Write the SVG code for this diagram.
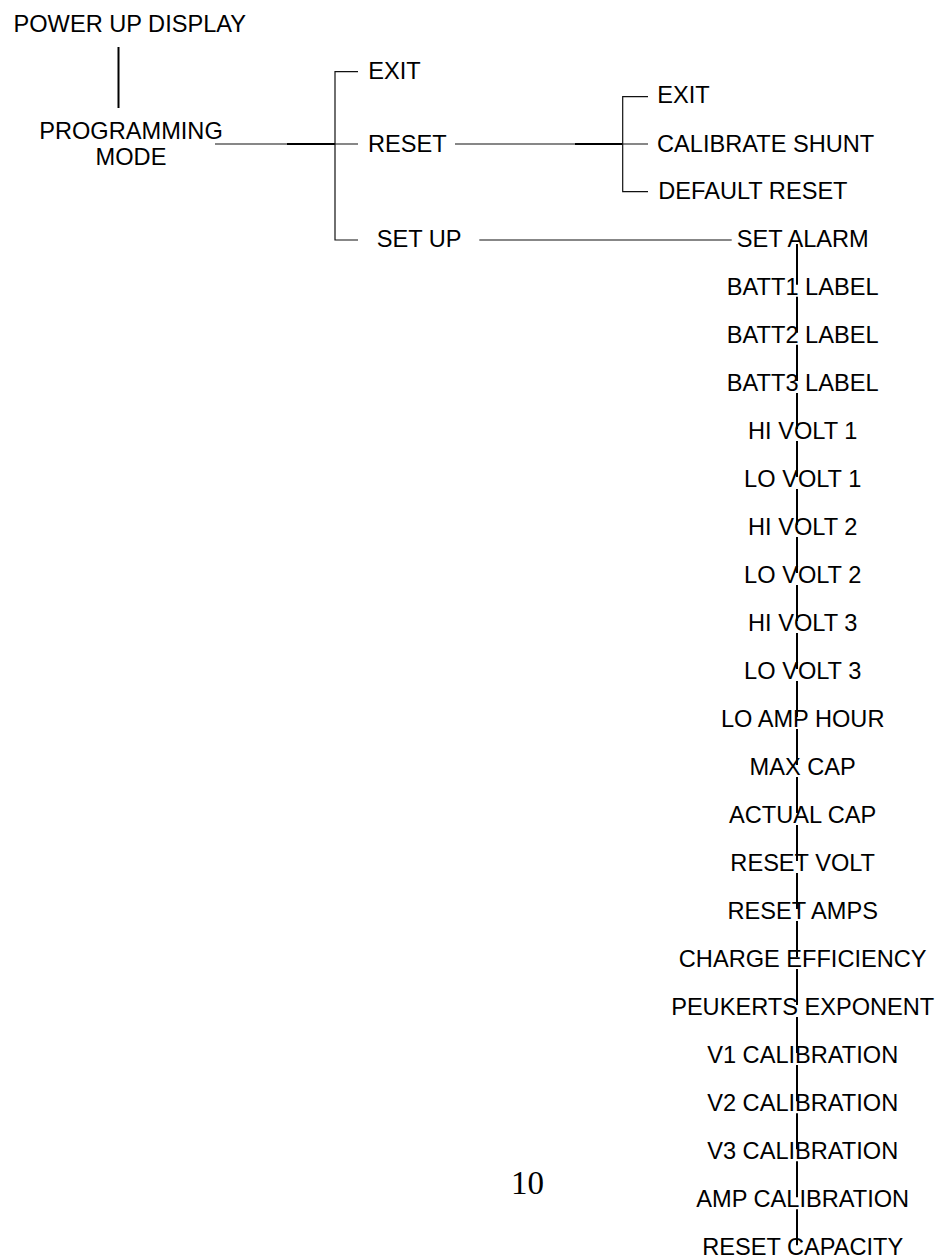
<svg xmlns="http://www.w3.org/2000/svg" width="939" height="1256" viewBox="0 0 939 1256">
<style>
text{font-family:"Liberation Sans",Arial,sans-serif;font-size:23.6px;fill:#000}
.m{text-anchor:middle}
.pg{font-family:"Liberation Serif","Times New Roman",serif;font-size:33px}
.thin{stroke:#111;stroke-width:1.2;fill:none}
.thick{stroke:#000;stroke-width:2;fill:none}
</style>
<rect width="939" height="1256" fill="#fff"/>
<g id="connectors">
<line class="thick" x1="118.5" y1="47" x2="118.5" y2="108"/>
<line class="thin" x1="215" y1="144" x2="287" y2="144"/>
<line class="thick" x1="287" y1="144" x2="335" y2="144"/>
<path class="thin" d="M358 71.7H335V240H358M335 144H358"/>
<line class="thin" x1="455" y1="144" x2="575" y2="144"/>
<line class="thick" x1="575" y1="144" x2="622.7" y2="144"/>
<path class="thin" d="M648 96.7H622.7V191.7H648M622.7 144H648"/>
<line class="thin" x1="479.3" y1="240" x2="731.7" y2="240"/>
<path class="thick" d="M797 244V284.8M797 296.8V332.8M797 344.8V380.9M797 392.9V428.9M797 440.9V476.9M797 488.9V524.9M797 536.9V572.9M797 584.9V621M797 633V669M797 681V717M797 729V765M797 777V813M797 825V861.1M797 873.1V909.1M797 921.1V957.1M797 969.1V1005.1M797 1017.1V1053.1M797 1065.1V1101.2M797 1113.2V1149.2M797 1161.2V1197.2M797 1209.2V1245.2"/>
</g>
<g id="power-up-display"><text class="m" x="129.8" y="31.5">POWER UP DISPLAY</text></g>
<g id="programming-mode"><text class="m" x="131" y="138.5">PROGRAMMING</text><text class="m" x="131" y="165.3">MODE</text></g>
<g id="exit-1"><text x="368.3" y="79.3">EXIT</text></g>
<g id="reset"><text x="368" y="151.5">RESET</text></g>
<g id="set-up"><text x="376.7" y="247.2">SET UP</text></g>
<g id="exit-2"><text x="657.3" y="103.3">EXIT</text></g>
<g id="calibrate-shunt"><text x="657" y="151.5">CALIBRATE SHUNT</text></g>
<g id="default-reset"><text x="658.3" y="199.3">DEFAULT RESET</text></g>
<g id="set-alarm"><text class="m" x="802.7" y="246.8">SET ALARM</text></g>
<g id="batt1-label"><text class="m" x="802.7" y="294.8">BATT1 LABEL</text></g>
<g id="batt2-label"><text class="m" x="802.7" y="342.8">BATT2 LABEL</text></g>
<g id="batt3-label"><text class="m" x="802.7" y="390.9">BATT3 LABEL</text></g>
<g id="hi-volt-1"><text class="m" x="802.7" y="438.9">HI VOLT 1</text></g>
<g id="lo-volt-1"><text class="m" x="802.7" y="486.9">LO VOLT 1</text></g>
<g id="hi-volt-2"><text class="m" x="802.7" y="534.9">HI VOLT 2</text></g>
<g id="lo-volt-2"><text class="m" x="802.7" y="582.9">LO VOLT 2</text></g>
<g id="hi-volt-3"><text class="m" x="802.7" y="631">HI VOLT 3</text></g>
<g id="lo-volt-3"><text class="m" x="802.7" y="679">LO VOLT 3</text></g>
<g id="lo-amp-hour"><text class="m" x="802.7" y="727">LO AMP HOUR</text></g>
<g id="max-cap"><text class="m" x="802.7" y="775">MAX CAP</text></g>
<g id="actual-cap"><text class="m" x="802.7" y="823">ACTUAL CAP</text></g>
<g id="reset-volt"><text class="m" x="802.7" y="871.1">RESET VOLT</text></g>
<g id="reset-amps"><text class="m" x="802.7" y="919.1">RESET AMPS</text></g>
<g id="charge-efficiency"><text class="m" x="802.7" y="967.1">CHARGE EFFICIENCY</text></g>
<g id="peukerts-exponent"><text class="m" x="802.7" y="1015.1">PEUKERTS EXPONENT</text></g>
<g id="v1-calibration"><text class="m" x="802.7" y="1063.1">V1 CALIBRATION</text></g>
<g id="v2-calibration"><text class="m" x="802.7" y="1111.2">V2 CALIBRATION</text></g>
<g id="v3-calibration"><text class="m" x="802.7" y="1159.2">V3 CALIBRATION</text></g>
<g id="amp-calibration"><text class="m" x="802.7" y="1207.2">AMP CALIBRATION</text></g>
<g id="reset-capacity"><text class="m" x="802.7" y="1255.2">RESET CAPACITY</text></g>
<g id="page-number"><text class="pg m" x="527.5" y="1193.5">10</text></g>
</svg>
